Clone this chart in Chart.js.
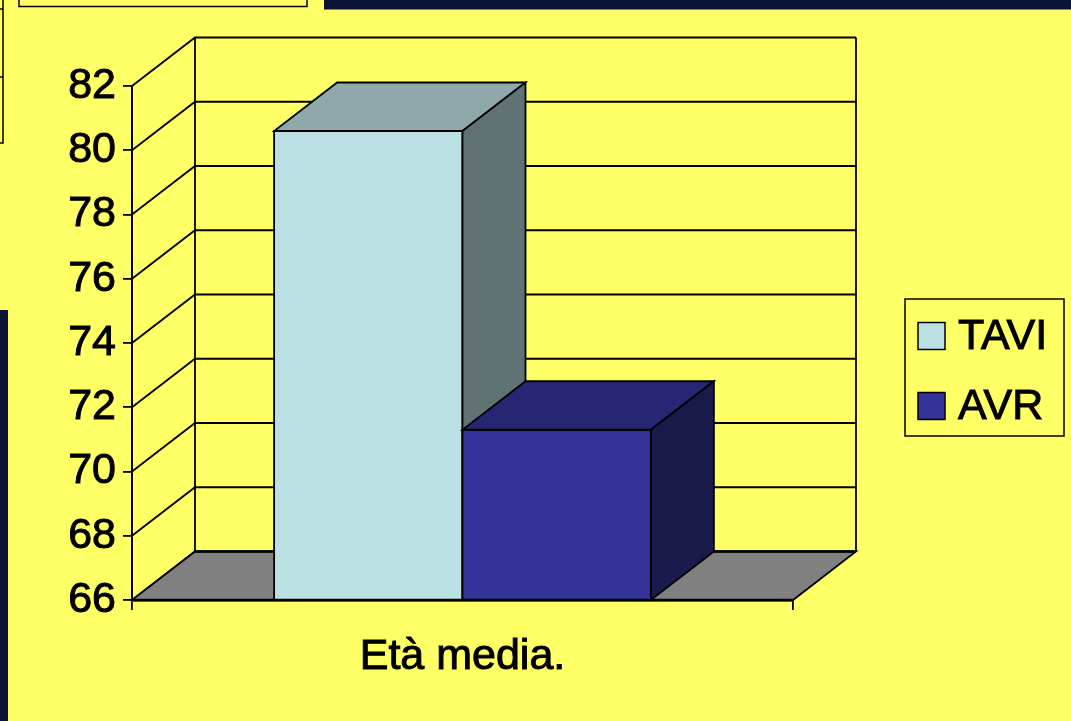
<!DOCTYPE html>
<html>
<head>
<meta charset="utf-8">
<script src="https://cdn.jsdelivr.net/npm/chart.js@4/dist/chart.umd.min.js"></script>
<style>
  html, body { margin: 0; padding: 0; background: #FFFF66; }
  canvas { display: block; }
</style>
</head>
<body>
<canvas id="c" width="1071" height="721"></canvas>
<script>
// Data
const categories = ['Età media.'];
const seriesNames = ['TAVI', 'AVR'];
const taviValues = [80.6];
const avrValues = [71.3];
const yTicks = [66, 68, 70, 72, 74, 76, 78, 80, 82];

// Face colours for each series: front, top, side
const faceColours = [
  { front: '#BBE0E3', top: '#8FA9AB', side: '#5F7374' },
  { front: '#333399', top: '#262673', side: '#1A1A4D' }
];

const FONT = '"Liberation Sans", Arial, sans-serif';
const FONT_SIZE = 43;
const LINE = 1.8;
const DEPTH_X = 63;   // perspective offset of the back plane
const DEPTH_Y = 48.5;

function poly(ctx, pts, fill) {
  ctx.beginPath();
  ctx.moveTo(pts[0][0], pts[0][1]);
  for (let i = 1; i < pts.length; i++) ctx.lineTo(pts[i][0], pts[i][1]);
  ctx.closePath();
  if (fill) { ctx.fillStyle = fill; ctx.fill(); }
  ctx.stroke();
}

// Slide background: yellow field, navy strips and the frame fragments
const backdrop = {
  id: 'backdrop',
  beforeDraw(chart) {
    const ctx = chart.ctx;
    ctx.save();
    ctx.fillStyle = '#FFFF66';
    ctx.fillRect(0, 0, chart.width, chart.height);
    ctx.fillStyle = '#0C1233';
    ctx.fillRect(324, 0, chart.width - 324, 9.5);
    ctx.fillRect(0, 310, 8, chart.height - 310);
    ctx.strokeStyle = '#000';
    ctx.lineWidth = 1.5;
    ctx.strokeRect(19, -5, 288, 11.5);
    ctx.beginPath();
    ctx.moveTo(3, 0); ctx.lineTo(3, 143); ctx.lineTo(0, 143);
    ctx.moveTo(0, 9); ctx.lineTo(3, 9);
    ctx.moveTo(0, 77); ctx.lineTo(3, 77);
    ctx.stroke();
    ctx.restore();
  }
};

// Walls, floor, grid and 3D columns
const box3d = {
  id: 'box3d',
  beforeDatasetsDraw(chart) {
    const ctx = chart.ctx;
    const area = chart.chartArea;
    const ys = chart.scales.y;
    const L = area.left, R = area.right;
    const top = ys.getPixelForValue(ys.max);
    const base = ys.getPixelForValue(ys.min);
    ctx.save();
    ctx.strokeStyle = '#000';
    ctx.lineJoin = 'miter';

    // grid on the back wall and the side wall
    ctx.lineWidth = LINE;
    ctx.beginPath();
    yTicks.forEach(v => {
      const y = ys.getPixelForValue(v);
      ctx.moveTo(L, y);
      ctx.lineTo(L + DEPTH_X, y - DEPTH_Y);
      ctx.lineTo(R + DEPTH_X, y - DEPTH_Y);
    });
    ctx.moveTo(L + DEPTH_X, top - DEPTH_Y);
    ctx.lineTo(L + DEPTH_X, base - DEPTH_Y);
    ctx.moveTo(R + DEPTH_X, top - DEPTH_Y);
    ctx.lineTo(R + DEPTH_X, base - DEPTH_Y);
    ctx.stroke();

    // floor
    ctx.lineWidth = LINE;
    poly(ctx, [[L, base], [R, base], [R + DEPTH_X, base - DEPTH_Y], [L + DEPTH_X, base - DEPTH_Y]], '#808080');
    ctx.lineWidth = 2.5;
    ctx.beginPath();
    ctx.moveTo(L + DEPTH_X, base - DEPTH_Y);
    ctx.lineTo(R + DEPTH_X, base - DEPTH_Y);
    ctx.stroke();

    // columns stand on the floor (axis minimum), drawn left to right
    ctx.lineWidth = LINE;
    chart.data.datasets.forEach((ds, i) => {
      const meta = chart.getDatasetMeta(i);
      const c = faceColours[i];
      meta.data.forEach(bar => {
        const p = bar.getProps(['x', 'y', 'base', 'width'], true);
        const b = Math.min(p.base, base);
        const bl = p.x - p.width / 2, br = p.x + p.width / 2;
        poly(ctx, [[bl, b], [br, b], [br, p.y], [bl, p.y]], c.front);
        poly(ctx, [[bl, p.y], [br, p.y], [br + DEPTH_X, p.y - DEPTH_Y], [bl + DEPTH_X, p.y - DEPTH_Y]], c.top);
        poly(ctx, [[br, p.y], [br + DEPTH_X, p.y - DEPTH_Y], [br + DEPTH_X, b - DEPTH_Y], [br, b]], c.side);
      });
    });

    // front edge of the floor
    ctx.lineWidth = 2.5;
    ctx.beginPath();
    ctx.moveTo(L, base);
    ctx.lineTo(R, base);
    ctx.stroke();
    ctx.restore();
    return false;
  }
};

// Boxed legend on the right
const boxedLegend = {
  id: 'boxedLegend',
  afterDraw(chart) {
    const ctx = chart.ctx;
    ctx.save();
    ctx.strokeStyle = '#000';
    ctx.lineWidth = 1.5;
    ctx.strokeRect(905, 299, 159, 137);
    ctx.font = FONT_SIZE + 'px ' + FONT;
    ctx.textBaseline = 'middle';
    ctx.textAlign = 'left';
    chart.data.datasets.forEach((ds, i) => {
      const cy = 336 + i * 70;
      ctx.lineWidth = 1.5;
      ctx.fillStyle = ds.backgroundColor;
      ctx.fillRect(918, cy - 13.5, 27, 27);
      ctx.strokeRect(918, cy - 13.5, 27, 27);
      ctx.fillStyle = '#000';
      ctx.lineWidth = 1;
      ctx.fillText(ds.label, 958, cy + 1);
      ctx.strokeText(ds.label, 958, cy + 1);
    });
    ctx.restore();
  }
};

new Chart(document.getElementById('c'), {
  type: 'bar',
  data: {
    labels: categories,
    datasets: [
      { label: seriesNames[0], data: taviValues, backgroundColor: faceColours[0].front },
      { label: seriesNames[1], data: avrValues, backgroundColor: faceColours[1].front }
    ]
  },
  options: {
    responsive: false,
    animation: false,
    devicePixelRatio: 1,
    layout: { padding: { top: 86, right: 278, bottom: 0, left: 0 } },
    datasets: { bar: { categoryPercentage: 0.57, barPercentage: 1.0 } },
    plugins: { legend: { display: false }, tooltip: { enabled: false } },
    scales: {
      x: {
        grid: { drawOnChartArea: false, drawTicks: true, tickLength: 10, color: '#000', lineWidth: LINE, offset: true },
        border: { display: true, color: '#000', width: 2.5 },
        ticks: { color: '#000', font: { family: FONT, size: FONT_SIZE }, padding: 21, textStrokeColor: '#000', textStrokeWidth: 1 },
        afterFit(scale) { scale.height = 121; }
      },
      y: {
        min: 66,
        max: 82,
        afterBuildTicks(scale) { scale.ticks = yTicks.map(v => ({ value: v })); },
        grid: { drawOnChartArea: false, drawTicks: true, tickLength: 9, color: '#000', lineWidth: LINE },
        border: { display: true, color: '#000', width: 2 },
        ticks: { color: '#000', font: { family: FONT, size: FONT_SIZE }, padding: 7, textStrokeColor: '#000', textStrokeWidth: 1 },
        afterFit(scale) { scale.width = 132; }
      }
    }
  },
  plugins: [backdrop, box3d, boxedLegend]
});
</script>
</body>
</html>
